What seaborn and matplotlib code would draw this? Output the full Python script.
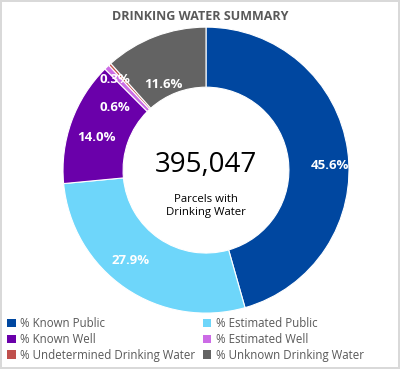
import numpy as np
import matplotlib
matplotlib.use("Agg")
import matplotlib.pyplot as plt
import seaborn as sns
from matplotlib.patches import Patch

# data
categories = ["% Known Public", "% Estimated Public", "% Known Well",
              "% Estimated Well", "% Undetermined Drinking Water",
              "% Unknown Drinking Water"]
shares = [45.6, 27.9, 14.0, 0.6, 0.3, 11.6]
labels = ["45.6%", "27.9%", "14.0%", "0.6%", "0.3%", "11.6%"]
colors = ["#0047A0", "#6ED6FA", "#6A00AA", "#CC6BE6", "#C0504D", "#636363"]
total_text = "395,047"
center_text = "Parcels with\nDrinking Water"

sns.set_theme(style="white")
plt.rcParams["font.family"] = ["Open Sans", "DejaVu Sans"]

fig = plt.figure(figsize=(4.0, 3.69), dpi=100)
fig.patch.set_edgecolor("#d9d9d9")
fig.patch.set_linewidth(1.5)

ax = fig.add_axes([0.1575, 0.1515, 0.715, 0.775])
wedges, _ = ax.pie(shares, colors=colors, startangle=90, counterclock=False,
                   wedgeprops=dict(width=0.42, edgecolor="white", linewidth=0.8))
ax.set_xlim(-1, 1)
ax.set_ylim(-1, 1)
ax.set_aspect("equal")
ax.axis("off")

# percentage labels placed along the ring (small slices nudged apart)
label_r = [0.87, 0.82, 0.80, 0.77, 0.90, 0.67]
angle_shift = [-6, -5.5, 3, 11.6, 3, 5.5]
for w, lab, r, sh in zip(wedges, labels, label_r, angle_shift):
    ang = np.deg2rad((w.theta1 + w.theta2) / 2 + sh)
    ax.text(r * np.cos(ang), r * np.sin(ang), lab, ha="center", va="center",
            color="white", fontsize=9.5, fontweight="bold")

ax.text(0, 0.035, total_text, ha="center", va="center", fontsize=20, color="black")
ax.text(0, -0.25, center_text, ha="center", va="center", fontsize=8.2,
        color="black", linespacing=1.25)

fig.text(0.5, 0.955, "DRINKING WATER SUMMARY", ha="center", va="center",
         fontsize=9, fontweight="bold", color="#595959")

# excel fills the legend row by row
order = [0, 2, 4, 1, 3, 5]
handles = [Patch(facecolor=colors[i], edgecolor="none") for i in order]
fig.legend(handles, [categories[i] for i in order], loc="lower left",
           bbox_to_anchor=(0.0, 0.0), ncol=2, frameon=False, fontsize=8.3,
           labelcolor="#595959", handlelength=0.7, handleheight=0.7,
           handletextpad=0.4, columnspacing=0.7, labelspacing=0.22,
           borderaxespad=0.25)

fig.savefig("out.png", dpi=100)
